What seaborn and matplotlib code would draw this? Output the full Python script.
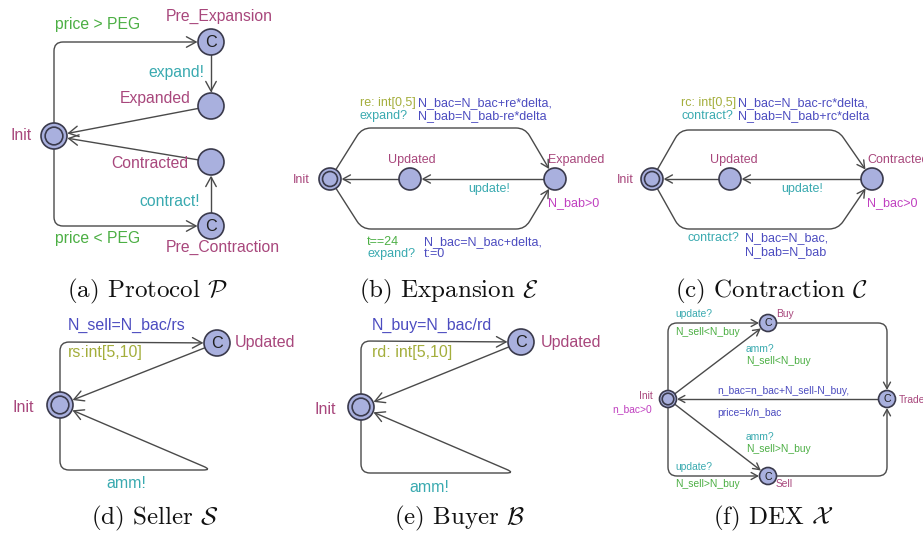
import numpy as np
import matplotlib
matplotlib.use("Agg")
import matplotlib.pyplot as plt
import seaborn as sns
from matplotlib.path import Path
from matplotlib.patches import Circle, FancyArrowPatch

sns.set_style("white")
plt.rcParams['font.family'] = ['Liberation Sans', 'DejaVu Sans']
plt.rcParams['mathtext.fontset'] = 'cm'

# colours used by UPPAAL for the different label kinds
C_NAME = '#a8477c'
C_GUARD = '#4caf44'
C_SYNC = '#3aaab0'
C_UPD = '#4c4cc0'
C_SEL = '#a4ae3c'
C_INV = '#c040c0'
C_EDGE = '#4a4a4a'
C_FILL = '#a9b0de'
C_RING = '#3a3a4c'

# ---- panel captions
captions = [r"(a) Protocol $\mathcal{P}$", r"(b) Expansion $\mathcal{E}$",
            r"(c) Contraction $\mathcal{C}$", r"(d) Seller $\mathcal{S}$",
            r"(e) Buyer $\mathcal{B}$", r"(f) DEX $\mathcal{X}$"]
caption_xy = [(147, 291), (449, 291), (771, 291), (155, 518), (460, 518), (773, 518)]

# ---- states: name, kind (i = initial, c = committed, n = normal)
states_a = [("Init", "i"), ("Pre_Expansion", "c"), ("Expanded", "n"),
            ("Contracted", "n"), ("Pre_Contraction", "c")]
states_b = [("Init", "i"), ("Updated", "n"), ("Expanded", "n")]
states_c = [("Init", "i"), ("Updated", "n"), ("Contracted", "n")]
states_d = [("Init", "i"), ("Updated", "c")]
states_e = [("Init", "i"), ("Updated", "c")]
states_f = [("Init", "i"), ("Buy", "c"), ("Trade", "c"), ("Sell", "c")]

# ---- edge labels
labels_a = [("price > PEG", C_GUARD), ("Pre_Expansion", C_NAME), ("expand!", C_SYNC),
            ("Expanded", C_NAME), ("Init", C_NAME), ("Contracted", C_NAME),
            ("contract!", C_SYNC), ("price < PEG", C_GUARD), ("Pre_Contraction", C_NAME)]
labels_b = [("re: int[0,5]", C_SEL), ("N_bac=N_bac+re*delta,", C_UPD), ("expand?", C_SYNC),
            ("N_bab=N_bab-re*delta", C_UPD), ("Updated", C_NAME), ("Expanded", C_NAME),
            ("Init", C_NAME), ("update!", C_SYNC), ("N_bab>0", C_INV), ("t==24", C_GUARD),
            ("expand?", C_SYNC), ("N_bac=N_bac+delta,", C_UPD), ("t:=0", C_UPD)]
labels_c = [("rc: int[0,5]", C_SEL), ("N_bac=N_bac-rc*delta,", C_UPD), ("contract?", C_SYNC),
            ("N_bab=N_bab+rc*delta", C_UPD), ("Updated", C_NAME), ("Contracted", C_NAME),
            ("Init", C_NAME), ("update!", C_SYNC), ("N_bac>0", C_INV), ("contract?", C_SYNC),
            ("N_bac=N_bac,", C_UPD), ("N_bab=N_bab", C_UPD)]
labels_d = [("N_sell=N_bac/rs", C_UPD), ("rs:int[5,10]", C_SEL), ("Updated", C_NAME),
            ("Init", C_NAME), ("amm!", C_SYNC)]
labels_e = [("N_buy=N_bac/rd", C_UPD), ("rd: int[5,10]", C_SEL), ("Updated", C_NAME),
            ("Init", C_NAME), ("amm!", C_SYNC)]
labels_f = [("update?", C_SYNC), ("Buy", C_NAME), ("N_sell<N_buy", C_GUARD), ("amm?", C_SYNC),
            ("N_sell<N_buy", C_GUARD), ("n_bac=n_bac+N_sell-N_buy,", C_UPD),
            ("price=k/n_bac", C_UPD), ("Init", C_NAME), ("n_bac>0", C_INV), ("Trade", C_NAME),
            ("amm?", C_SYNC), ("N_sell>N_buy", C_GUARD), ("update?", C_SYNC),
            ("N_sell>N_buy", C_GUARD), ("Sell", C_NAME)]

# ---- layout (pixel coordinates of the picture)
pos_a = [(54, 136), (211, 42), (211, 106), (211, 162), (211, 226)]
pos_b = [(330, 179), (410, 179), (555, 179)]
pos_c = [(652, 179), (730, 179), (872, 179)]
pos_d = [(60, 405), (217, 343)]
pos_e = [(361, 407), (521, 342)]
pos_f = [(668, 399), (768, 323), (887, 399), (768, 476)]

# edges: (from, to, via points)
edges_a = [(0, 1, [(54, 42)]), (1, 2, []), (2, 0, []), (3, 0, []), (4, 3, []),
           (0, 4, [(54, 226)])]
edges_b = [(0, 2, [(362, 128), (525, 128)]), (0, 2, [(362, 229), (525, 229)]),
           (2, 1, []), (1, 0, [])]
edges_c = [(0, 2, [(680, 130), (838, 130)]), (0, 2, [(680, 229), (838, 229)]),
           (2, 1, []), (1, 0, [])]
edges_d = [(0, 1, [(60, 342)]), (1, 0, []), (0, 0, [(60, 470), (212, 470)])]
edges_e = [(0, 1, [(361, 341)]), (1, 0, []), (0, 0, [(361, 473), (515, 473)])]
edges_f = [(0, 1, [(668, 323)]), (0, 1, []), (1, 2, [(887, 323)]), (2, 0, []),
           (0, 3, []), (0, 3, [(668, 476)]), (3, 2, [(887, 476)])]

label_xy_a = [(55, 25), (166, 16), (148, 72), (120, 99), (10, 136), (111, 164),
              (139, 201), (55, 238), (166, 247)]
label_xy_b = [(360, 103), (418, 103), (360, 116), (418, 116), (388, 160), (548, 160),
              (293, 180), (468, 189), (548, 203), (367, 242), (367, 254), (424, 242),
              (424, 254)]
label_xy_c = [(681, 103), (738, 103), (681, 116), (738, 116), (710, 160), (867, 160),
              (617, 180), (781, 189), (867, 203), (688, 238), (745, 238), (745, 252)]
label_xy_d = [(68, 325), (68, 353), (235, 343), (13, 408), (106, 483)]
label_xy_e = [(372, 325), (372, 353), (541, 343), (315, 410), (409, 487)]
label_xy_f = [(675, 314), (776, 314), (675, 332), (746, 349), (746, 361), (717, 391),
              (717, 413), (639, 396), (612, 409), (899, 400), (746, 437), (746, 449),
              (675, 467), (675, 484), (776, 484)]

panels = [
    (states_a, pos_a, edges_a, labels_a, label_xy_a, 13, 11.3, 9),
    (states_b, pos_b, edges_b, labels_b, label_xy_b, 11, 9.0, 7),
    (states_c, pos_c, edges_c, labels_c, label_xy_c, 11, 9.0, 7),
    (states_d, pos_d, edges_d, labels_d, label_xy_d, 13, 11.5, 9),
    (states_e, pos_e, edges_e, labels_e, label_xy_e, 13, 11.5, 9),
    (states_f, pos_f, edges_f, labels_f, label_xy_f, 8.5, 7.4, 6),
]


def edge_path(pts, r_start, r_end, corner=9):
    pts = [np.array(p, float) for p in pts]
    d = pts[1] - pts[0]
    pts[0] = pts[0] + d / np.linalg.norm(d) * r_start
    d = pts[-1] - pts[-2]
    pts[-1] = pts[-1] - d / np.linalg.norm(d) * r_end
    verts, codes = [pts[0]], [Path.MOVETO]
    for i in range(1, len(pts) - 1):
        p0, p1, p2 = pts[i - 1], pts[i], pts[i + 1]
        l1, l2 = np.linalg.norm(p1 - p0), np.linalg.norm(p2 - p1)
        rr = min(corner, l1 / 2, l2 / 2)
        a = p1 - (p1 - p0) / l1 * rr
        b = p1 + (p2 - p1) / l2 * rr
        verts += [a, p1, b]
        codes += [Path.LINETO, Path.CURVE3, Path.CURVE3]
    verts.append(pts[-1])
    codes.append(Path.LINETO)
    return Path(verts, codes)


fig = plt.figure(figsize=(9.23, 5.33), dpi=100)
ax = fig.add_axes([0, 0, 1, 1])
ax.set_xlim(0, 923)
ax.set_ylim(533, 0)
ax.axis('off')

for states, pos, edges, labels, label_xy, r, fs, afs in panels:
    for a, b, via in edges:
        pts = [pos[a]] + via + [pos[b]]
        path = edge_path(pts, r, r + 0.5)
        arr = FancyArrowPatch(path=path, arrowstyle='->,head_length=%.2f,head_width=%.2f'
                              % (0.55, 0.3), mutation_scale=afs * 1.4,
                              color=C_EDGE, lw=1.0, zorder=2)
        ax.add_patch(arr)
    for (name, kind), (x, y) in zip(states, pos):
        ax.add_patch(Circle((x, y), r, facecolor=C_FILL, edgecolor=C_RING, lw=1.2, zorder=3))
        if kind == 'i':
            ax.add_patch(Circle((x, y), r * 0.68, facecolor='none', edgecolor=C_RING,
                                lw=1.2, zorder=4))
        elif kind == 'c':
            ax.text(x, y + 0.5, 'C', ha='center', va='center', fontsize=r * 0.9,
                    color='#202020', zorder=4)
    for (txt, col), (x, y) in zip(labels, label_xy):
        ax.text(x, y, txt, color=col, fontsize=fs, ha='left', va='center', zorder=5)

for txt, (x, y) in zip(captions, caption_xy):
    ax.text(x, y, txt, fontsize=18, ha='center', va='center', family='cmr10',
            color='#111111')

fig.savefig('out.png', dpi=100)
